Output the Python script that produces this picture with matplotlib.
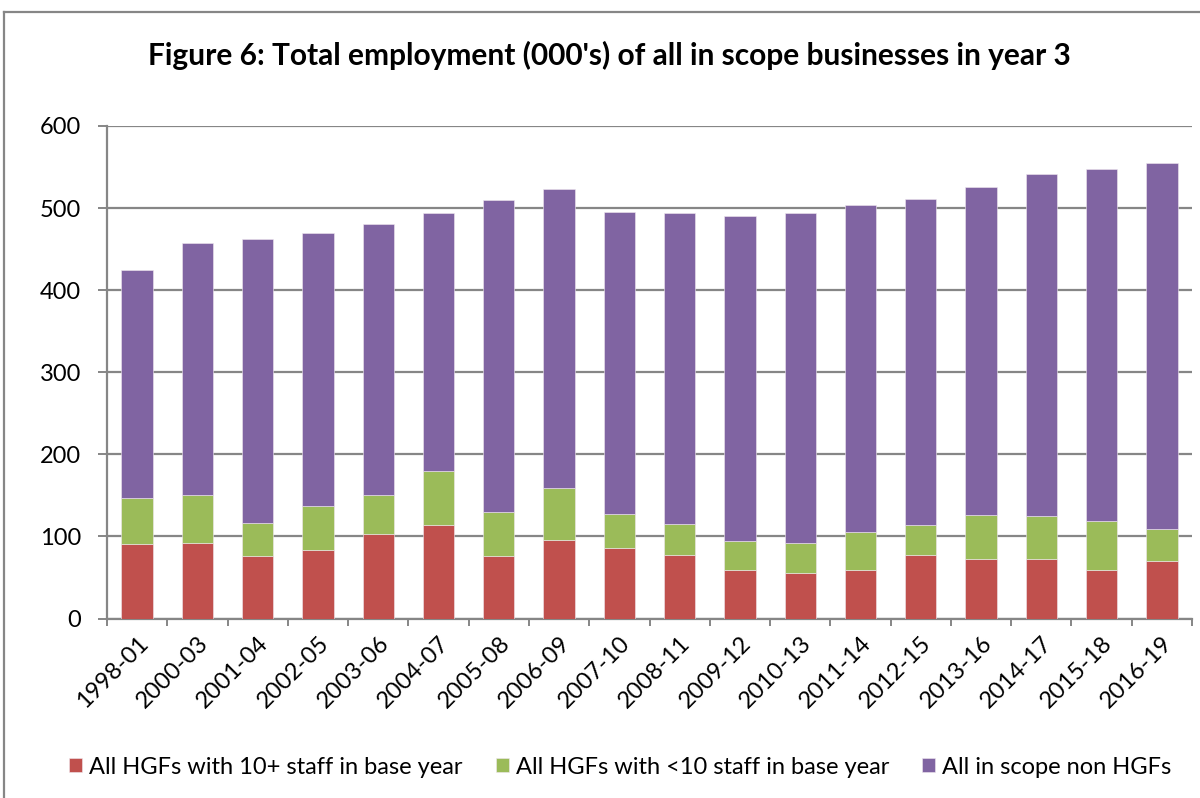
import numpy as np
import matplotlib
matplotlib.use('Agg')
import matplotlib.pyplot as plt
from matplotlib.lines import Line2D

plt.rcParams['font.family'] = ['Lato', 'DejaVu Sans']

# Data (thousands of employees)
periods = ['1998-01', '2000-03', '2001-04', '2002-05', '2003-06', '2004-07',
           '2005-08', '2006-09', '2007-10', '2008-11', '2009-12', '2010-13',
           '2011-14', '2012-15', '2013-16', '2014-17', '2015-18', '2016-19']
hgf_10plus = [91, 91.5, 76, 83, 103, 114, 76.5, 96, 86, 77.5, 59.5, 55.5,
              59.5, 77.5, 72.5, 72.5, 59.5, 70]
hgf_under10 = [56, 58.5, 40.5, 54, 47, 65.5, 53.5, 63.5, 41.5, 38, 35, 36,
               45.5, 37, 53.5, 52.5, 59, 39]
non_hgf = [278, 307, 345.5, 333, 331, 314.5, 380, 363.5, 367.5, 378.5, 395.5,
           402.5, 399, 396.5, 400, 416, 429.5, 446]

labels = ['All HGFs with 10+ staff in base year',
          'All HGFs with <10 staff in base year',
          'All in scope non HGFs']
colors = ['#C0504D', '#9BBB59', '#8064A2']
grid_color = '#868686'

fig = plt.figure(figsize=(12, 7.98), dpi=100)
ax = fig.add_axes([107 / 1200, 1 - 618.5 / 798, 1085 / 1200, (618.5 - 126) / 798])

x = np.arange(len(periods))
bottom = np.zeros(len(periods))
for vals, col, lab in zip([hgf_10plus, hgf_under10, non_hgf], colors, labels):
    ax.bar(x, vals, 0.52, bottom=bottom, color=col, edgecolor='#f0e8f0',
           linewidth=0.4, label=lab, zorder=3)
    bottom += np.array(vals)

ax.set_xlim(-0.5, len(periods) - 0.5)
ax.set_ylim(0, 600)
ax.set_yticks(range(0, 601, 100))
ax.yaxis.grid(True, color=grid_color, linewidth=1.6, zorder=0)
ax.set_axisbelow(True)

for side in ['top', 'right']:
    ax.spines[side].set_visible(False)
for side in ['left', 'bottom']:
    ax.spines[side].set_color(grid_color)
    ax.spines[side].set_linewidth(1.6)

ax.tick_params(axis='y', length=6.5, width=1.4, color=grid_color, labelsize=17,
               pad=12)
ax.set_xticks(x)
ax.set_xticklabels(periods, rotation=45, ha='right', rotation_mode='anchor',
                   fontsize=17)
ax.tick_params(axis='x', which='major', length=0, pad=10)
ax.set_xticks(np.arange(-0.5, len(periods)), minor=True)
ax.tick_params(axis='x', which='minor', length=5, width=1.4, color=grid_color)

fig.text(0.508, 1 - 55 / 798, "Figure 6: Total employment (000's) of all in scope businesses in year 3",
         ha='center', va='center', fontsize=21.5, fontweight='bold')

fig.legend(loc='center', bbox_to_anchor=(0.517, 1 - 767 / 798), ncol=3,
           frameon=False, fontsize=17, handlelength=0.55, handleheight=0.55,
           handletextpad=0.3, columnspacing=1.4)

# outer chart frame (left and top edges visible)
fig.add_artist(Line2D([4 / 1200, 4 / 1200], [0, 1 - 12 / 798],
                      color=grid_color, linewidth=1.6))
fig.add_artist(Line2D([4 / 1200, 1], [1 - 12 / 798, 1 - 12 / 798],
                      color=grid_color, linewidth=1.6))

fig.savefig('out.png', dpi=100)
